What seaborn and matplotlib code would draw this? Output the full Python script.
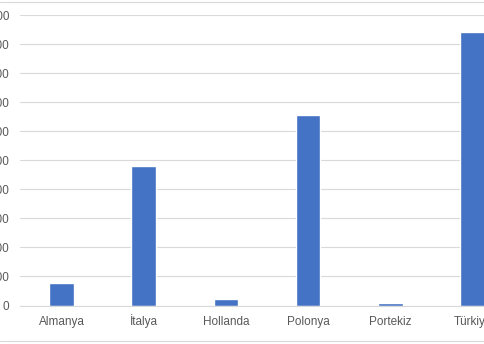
import matplotlib
matplotlib.use("Agg")
import matplotlib.pyplot as plt
from matplotlib.lines import Line2D
import seaborn as sns
import pandas as pd

categories = ["Almanya", "İtalya", "Hollanda", "Polonya", "Portekiz", "Türkiye"]
values = [78, 481, 24, 656, 10, 940]
y_ticks = [0, 100, 200, 300, 400, 500, 600, 700, 800, 900, 1000]

sns.set_theme(style="white")
plt.rcParams['font.family'] = ['Liberation Sans', 'DejaVu Sans']

df = pd.DataFrame({"country": categories, "value": values})

W, H = 485, 344
fig = plt.figure(figsize=(W / 100, H / 100), dpi=100)
fig.patch.set_facecolor("white")

left = 20.4 / W
bottom = (H - 305.5) / H
width = 493.2 / W
height = (305.5 - 15.0) / H
ax = fig.add_axes([left, bottom, width, height])

sns.barplot(data=df, x="country", y="value", order=categories,
            color="#4472C4", saturation=1, width=0.30, ax=ax)

ax.set_xlim(-0.5, 5.5)
ax.set_ylim(0, 1000)
ax.set_yticks(y_ticks)
ax.set_yticklabels([str(v) for v in y_ticks])
ax.set_xlabel("")
ax.set_ylabel("")
ax.grid(axis="y", color="#D9D9D9", linewidth=0.8)
ax.set_axisbelow(True)
for s in ["left", "right", "top"]:
    ax.spines[s].set_visible(False)
ax.spines["bottom"].set_color("#D9D9D9")
ax.spines["bottom"].set_linewidth(0.8)
ax.tick_params(axis="both", length=0, colors="#595959", labelsize=8.5)
ax.tick_params(axis="y", pad=8)
ax.tick_params(axis="x", pad=14)
for lbl in ax.get_xticklabels():
    lbl.set_verticalalignment("baseline")

# chart area border (top and bottom edges visible in crop)
fig.add_artist(Line2D([0, 1], [1 - 1.5 / H, 1 - 1.5 / H], transform=fig.transFigure,
                      color="#D9D9D9", linewidth=0.8))
fig.add_artist(Line2D([0, 1], [1 - 341 / H, 1 - 341 / H], transform=fig.transFigure,
                      color="#D9D9D9", linewidth=0.8))

fig.savefig("out.png", dpi=100)
